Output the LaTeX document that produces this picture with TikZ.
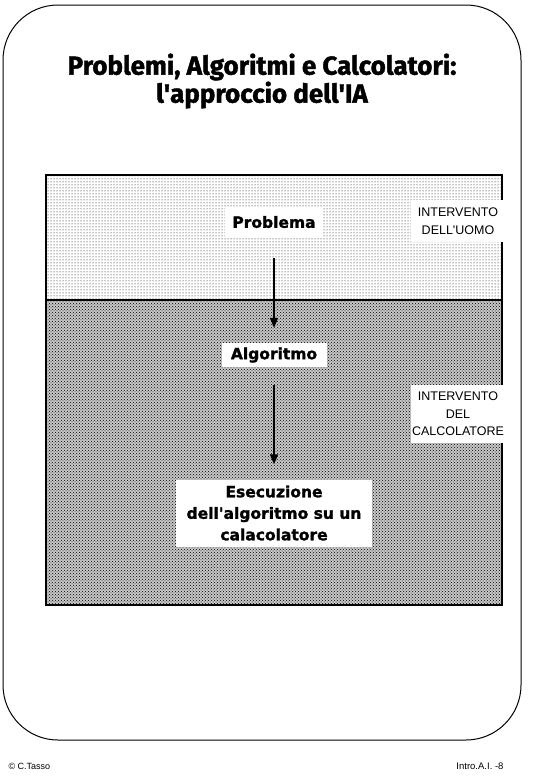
\documentclass[tikz,border=0pt]{standalone}
\usepackage{fontspec}
\setmainfont{Fira Sans}
\newfontfamily\titlefont{Fira Sans}[BoldFeatures={FakeBold=1.5}]
\newfontfamily\boxfont{DejaVu Sans}[BoldFeatures={FakeBold=1.5}]
\newfontfamily\labfont{Liberation Sans}
\usetikzlibrary{patterns,arrows.meta}
\begin{document}
\begin{tikzpicture}[x=1pt,y=-1pt,
  whitebox/.style={fill=white, inner sep=0pt, align=center},
  boxlabel/.style={whitebox, font=\boxfont\bfseries\fontsize{15.5}{21.5}\selectfont},
  sidelabel/.style={whitebox, font=\labfont\fontsize{12.5}{17.5}\selectfont},
  arr/.style={line width=1.5pt, -{Triangle[length=10pt,width=8pt]}},
  edge/.style={line width=2pt}]
\useasboundingbox (0,0) rectangle (536,779);
% outer rounded frame
\draw[line width=1pt, rounded corners=55pt] (3,5) rectangle (521,740);
% title
\node[font=\titlefont\bfseries\fontsize{26}{28}\selectfont, align=center] (title) at (262,81)
  {Problemi, Algoritmi e Calcolatori:\\l\textquotesingle approccio dell\textquotesingle IA};
% regions
\path[pattern=dots] (46,175) rectangle (502,300);
\path[fill=black!22] (46,300) rectangle (502,605);
\path[pattern=crosshatch dots] (46,300) rectangle (502,605);
\draw[edge] (46,175) rectangle (502,605);
\draw[edge] (46,300) -- (502,300);
% nodes
\node[boxlabel, minimum width=98pt, minimum height=31pt] (prob) at (274,222) {Problema};
\node[boxlabel, minimum width=105pt, minimum height=24pt] (alg) at (274,355) {Algoritmo};
\node[boxlabel, minimum width=196pt, minimum height=67pt] (exec) at (274,513)
  {Esecuzione\\dell\textquotesingle algoritmo su un\\calacolatore};
\node[sidelabel, minimum width=95pt, minimum height=42pt] (uomo) at (458,221)
  {INTERVENTO\\DELL\textquotesingle UOMO};
\node[sidelabel, minimum width=95pt, minimum height=58pt] (calc) at (458,414)
  {INTERVENTO\\DEL\\CALCOLATORE};
% arrows
\draw[arr, shorten <=20pt, shorten >=15pt] (prob) -- (alg);
\draw[arr, shorten <=18pt, shorten >=15pt] (alg) -- (exec);
% footer
\node[font=\labfont\fontsize{9}{11}\selectfont, anchor=west] (copy) at (5,766) {© C.Tasso};
\node[font=\labfont\fontsize{9.5}{11}\selectfont, anchor=east] (page) at (507,766) {Intro.A.I. -8};
\end{tikzpicture}
\end{document}
